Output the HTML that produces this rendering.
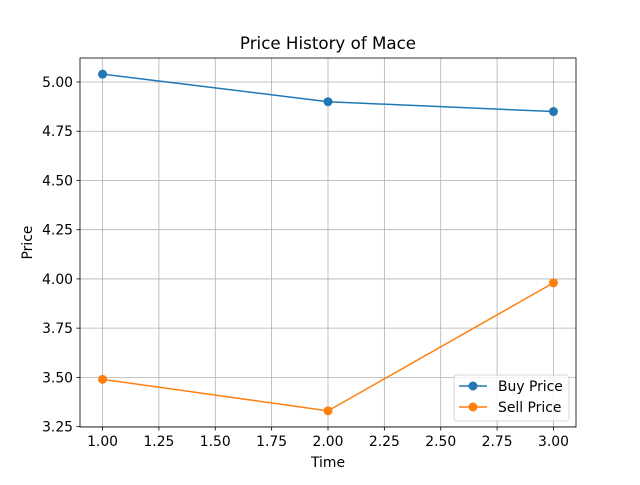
<!DOCTYPE html>
<html><head><meta charset="utf-8"><style>
html,body{margin:0;padding:0;background:#fff;}
svg text{font-family:"DejaVu Sans","Liberation Sans",sans-serif;}
</style></head><body>
<svg id="chart" width="640" height="480" viewBox="0 0 640 480" xmlns="http://www.w3.org/2000/svg">
<rect width="640" height="480" fill="#fff"/>
<text x="328" y="49" font-size="16.7" text-anchor="middle" fill="#000">Price History of Mace</text>
<g id="grid"></g><g id="ticks"></g><g id="series"></g>
<rect x="80" y="58" width="496" height="369" fill="none" stroke="#000" stroke-width="0.8"/>
<text x="328" y="467" font-size="13.9" text-anchor="middle">Time</text>
<text x="32" y="242.5" font-size="13.9" text-anchor="middle" transform="rotate(-90 32 242.5)">Price</text>
<g>
<rect x="454" y="375" width="115" height="46" rx="3" fill="#fff" fill-opacity="0.8" stroke="#ccc" stroke-width="0.8"/>
<g>
<line x1="459" y1="386" x2="487" y2="386" stroke="#1f77b4" stroke-width="1.5"/><circle cx="473" cy="386" r="4.5" fill="#1f77b4"/>
<text x="498" y="391" font-size="13.9">Buy Price</text></g>
<g>
<line x1="459" y1="407" x2="487" y2="407" stroke="#ff7f0e" stroke-width="1.5"/><circle cx="473" cy="407" r="4.5" fill="#ff7f0e"/>
<text x="498" y="412" font-size="13.9">Sell Price</text></g>
</g>
</svg>
<script>
const times=[1,2,3];
const buyPrices=[5.04,4.90,4.85];
const sellPrices=[3.49,3.33,3.98];
const xTicks=[1.00,1.25,1.50,1.75,2.00,2.25,2.50,2.75,3.00];
const yTicks=[3.25,3.50,3.75,4.00,4.25,4.50,4.75,5.00];
const NS="http://www.w3.org/2000/svg";
const L=80,R=576,T=58,B=427,x0=0.9,x1=3.1,y0=3.248,y1=5.122;
function sx(v){return L+(v-x0)/(x1-x0)*(R-L);}
function sy(v){return B-(v-y0)/(y1-y0)*(B-T);}
function mk(tag,a,p){const e=document.createElementNS(NS,tag);for(const k in a)e.setAttribute(k,a[k]);p.appendChild(e);return e;}
const grid=document.getElementById('grid'),ticks=document.getElementById('ticks'),series=document.getElementById('series');
xTicks.forEach(v=>{const x=sx(v);
const g=mk('line',{x1:x,x2:x,y1:T,y2:B,stroke:'#b0b0b0','stroke-width':0.8},grid);


mk('line',{x1:x,x2:x,y1:B,y2:B+3.5,stroke:'#000','stroke-width':0.8},ticks);
const t=mk('text',{x:x,y:B+19,'font-size':13.9,'text-anchor':'middle'},ticks);t.textContent=v.toFixed(2);

});
yTicks.forEach(v=>{const y=sy(v);
const g=mk('line',{x1:L,x2:R,y1:y,y2:y,stroke:'#b0b0b0','stroke-width':0.8},grid);


mk('line',{x1:L-3.5,x2:L,y1:y,y2:y,stroke:'#000','stroke-width':0.8},ticks);
const t=mk('text',{x:L-7,y:y+5,'font-size':13.9,'text-anchor':'end'},ticks);t.textContent=v.toFixed(2);

});
function draw(vals,color,name){
const pl=mk('polyline',{points:vals.map((v,i)=>sx(times[i])+','+sy(v)).join(' '),fill:'none',stroke:color,'stroke-width':1.5},series);


vals.forEach((v,i)=>{const c=mk('circle',{cx:sx(times[i]),cy:sy(v),r:4.5,fill:color},series);

});}
draw(buyPrices,'#1f77b4','buy-price');
draw(sellPrices,'#ff7f0e','sell-price');
</script>
</body></html>
